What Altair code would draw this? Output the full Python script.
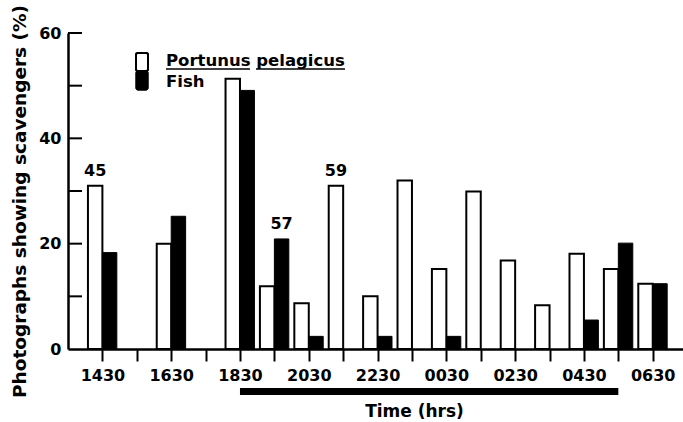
import altair as alt
import pandas as pd

# ---------------- data ----------------
hours = ["1430", "1530", "1630", "1730", "1830", "1930", "2030", "2130", "2230",
         "2330", "0030", "0130", "0230", "0330", "0430", "0530", "0630"]
sample_times = ["1430", "1630", "1830", "1930", "2030", "2130", "2230", "2330",
                "0030", "0130", "0230", "0330", "0430", "0530", "0630"]
portunus = [31.0, 20.0, 51.3, 11.9, 8.7, 31.0, 10.0, 32.0, 15.2, 29.9, 16.8, 8.3, 18.1, 15.2, 12.4]
fish = [18.3, 25.2, 49.1, 20.9, 2.4, 0.0, 2.4, 0.0, 2.4, 0.0, 0.0, 0.0, 5.5, 20.1, 12.4]
series_names = ["Portunus pelagicus", "Fish"]
note_times = ["1430", "1930", "2130"]
note_series = ["Portunus pelagicus", "Fish", "Portunus pelagicus"]
note_text = ["45", "57", "59"]
night_start = "1830"
night_end = "0530"
y_tick_values = [10, 20, 30, 40, 50, 60]
y_label_values = [0, 20, 40, 60]
x_title = "Time (hrs)"
y_title = "Photographs showing scavengers (%)"

# ---------------- styles ----------------
FONT = "DejaVu Sans"
BOLD = "bold"
BAR_W = 0.42          # bar width in hour units
W, H = 615, 316

rows = []
for t, p, f in zip(sample_times, portunus, fish):
    i = hours.index(t)
    rows.append({"time": t, "series": series_names[0], "value": p, "x0": i - BAR_W, "x1": i, "xc": i - BAR_W / 2})
    rows.append({"time": t, "series": series_names[1], "value": f, "x0": i, "x1": i + BAR_W, "xc": i + BAR_W / 2})
bars = pd.DataFrame(rows)

notes = pd.DataFrame({"time": note_times, "series": note_series, "n": note_text})
notes = notes.merge(bars, on=["time", "series"])

night = pd.DataFrame({"x0": [hours.index(night_start)], "x1": [hours.index(night_end)]})
yticks = pd.DataFrame({"value": y_tick_values})

label_list = [h if k % 2 == 0 else "" for k, h in enumerate(hours)]
label_expr = "[" + ",".join("'%s'" % s for s in label_list) + "][datum.value]"

xs = alt.Scale(domain=[-1, 16.88], nice=False, zero=False)
ys = alt.Scale(domain=[0, 60], nice=False)

x_axis = alt.Axis(values=list(range(len(hours))), labelExpr=label_expr, grid=False,
                  tickSize=12, tickWidth=2, tickColor="black", domainWidth=2.5, domainColor="black",
                  labelFont=FONT, labelFontSize=16, labelFontWeight=BOLD, labelColor="black",
                  labelPadding=6, labelFlush=False, labelOverlap=False,
                  title=x_title, titleFont=FONT, titleFontSize=17, titleFontWeight=BOLD,
                  titleColor="black", titleX=346, titleY=62, titleAlign="center",
                  titleBaseline="middle")
y_axis = alt.Axis(values=y_label_values, grid=False, ticks=False, tickSize=0,
                  domainWidth=2.5, domainColor="black", labelFont=FONT, labelFontSize=16,
                  labelFontWeight=BOLD, labelColor="black", labelPadding=7,
                  title=y_title, titleFont=FONT, titleFontSize=18.5, titleFontWeight=BOLD,
                  titleColor="black", titleAngle=270, titleX=-49, titleY=168,
                  titleAlign="center", titleBaseline="middle")

X = alt.X("x0:Q", scale=xs, axis=x_axis)
Y = alt.Y("value:Q", scale=ys, axis=y_axis)

base = alt.Chart(bars)
white = base.transform_filter(alt.datum.series == series_names[0]).mark_rect(
    fill="white", stroke="black", strokeWidth=2).encode(
    x=X, x2="x1", y=Y, y2=alt.datum(0),
)
black = base.transform_filter((alt.datum.series == series_names[1]) & (alt.datum.value > 0)).mark_rect(
    fill="black", stroke="black", strokeWidth=1).encode(
    x=X, x2="x1", y=Y, y2=alt.datum(0),
)
note_layer = alt.Chart(notes).mark_text(font=FONT, fontSize=16, fontWeight=BOLD, color="black",
                                        dy=-15, baseline="middle", align="center").encode(
    x=alt.X("xc:Q", scale=xs, axis=x_axis),
    y=Y,
    text="n:N",
)
tick_layer = alt.Chart(yticks).mark_rule(color="black", strokeWidth=2).encode(
    y=Y,
    x=alt.value(0),
    x2=alt.value(14),
)
night_layer = alt.Chart(night).mark_rule(color="black", strokeWidth=7, strokeCap="butt").encode(
    x=X,
    x2="x1:Q",
    y=alt.value(H + 42.5),
)

# legend (drawn by hand to reproduce the stacked box and underlined name)
leg = alt.Chart(pd.DataFrame({"series": series_names}))
leg_white = leg.mark_rect(fill="white", stroke="black", strokeWidth=2, cornerRadius=2).encode(
    x=alt.value(68), x2=alt.value(80), y=alt.value(20), y2=alt.value(38))
leg_black = leg.mark_rect(fill="black", stroke="black", strokeWidth=1, cornerRadius=2).encode(
    x=alt.value(68), x2=alt.value(80), y=alt.value(38), y2=alt.value(57))
leg_t1 = leg.transform_filter(alt.datum.series == series_names[0]).mark_text(
    font=FONT, fontSize=16.5, fontWeight=BOLD, align="left", baseline="alphabetic",
    color="black").encode(x=alt.value(98), y=alt.value(33), text="series:N")
leg_t2 = leg.transform_filter(alt.datum.series == series_names[1]).mark_text(
    font=FONT, fontSize=16.5, fontWeight=BOLD, align="left", baseline="alphabetic",
    color="black").encode(x=alt.value(98), y=alt.value(54), text="series:N")
ul1 = leg.transform_filter(alt.datum.series == series_names[0]).mark_rule(
    color="black", strokeWidth=1.5).encode(x=alt.value(98), x2=alt.value(182), y=alt.value(36))
ul2 = leg.transform_filter(alt.datum.series == series_names[0]).mark_rule(
    color="black", strokeWidth=1.5).encode(x=alt.value(188), x2=alt.value(277), y=alt.value(36))

chart = alt.layer(white, black, note_layer, tick_layer, night_layer,
                  leg_white, leg_black, leg_t1, leg_t2, ul1, ul2).properties(
    width=W, height=H,
    autosize=alt.AutoSizeParams(type="none"),
    padding={"left": 68, "top": 33, "right": 0, "bottom": 73},
    background="white",
).configure_view(stroke=None)

chart.save("out.html", embed_options={"renderer": "svg", "actions": False})
